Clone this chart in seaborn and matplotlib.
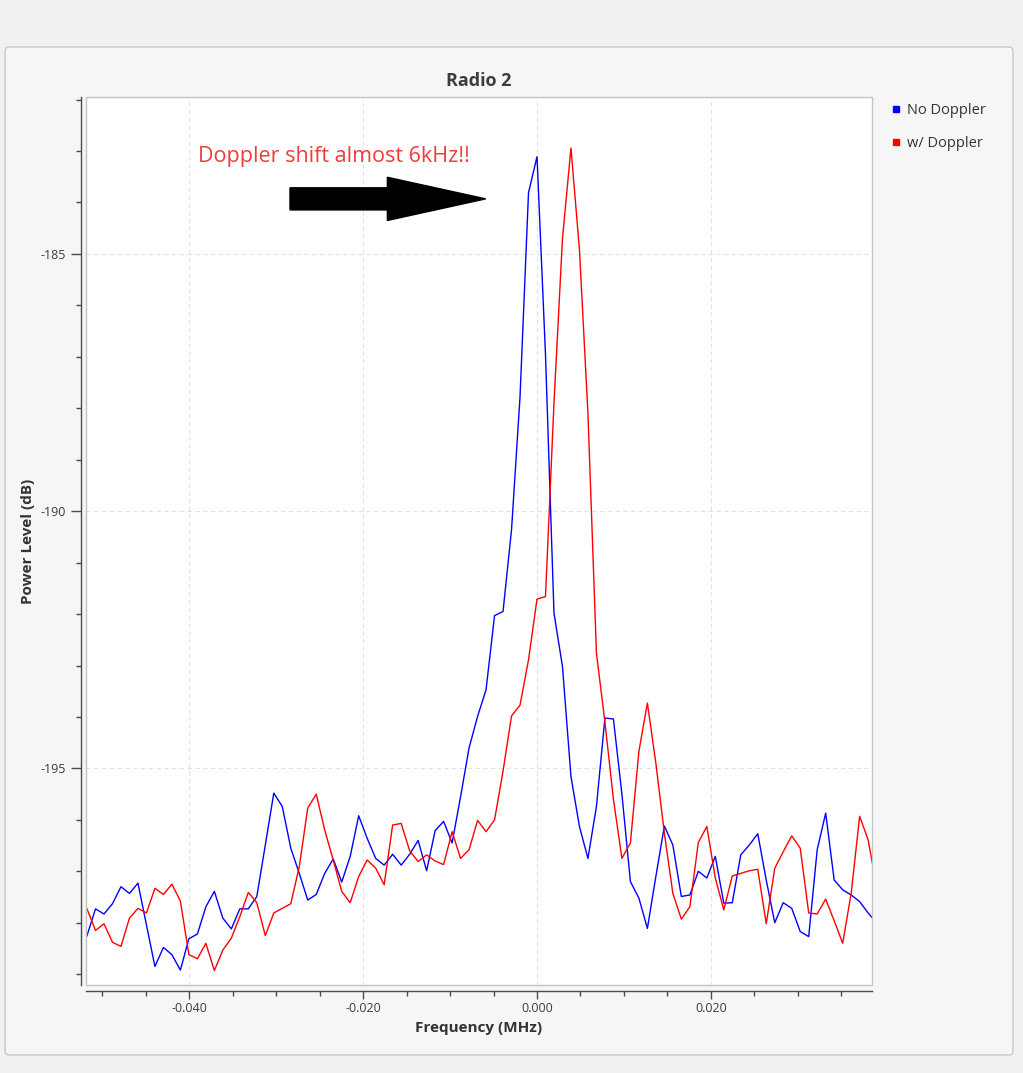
import numpy as np
import pandas as pd
import matplotlib
matplotlib.use("Agg")
import matplotlib.pyplot as plt
import seaborn as sns
from matplotlib.patches import FancyArrow, Rectangle, FancyBboxPatch
from matplotlib.lines import Line2D
from matplotlib.ticker import MultipleLocator, FormatStrFormatter

# fft bins (1 MHz / 1024 per bin), from -54 to +40
bins = np.arange(-54, 41)
freq_mhz = bins / 1024.0

no_doppler = [
    -198.60, -198.25, -197.73, -197.83, -197.63, -197.30, -197.43, -197.23, -198.04, -198.85,
    -198.48, -198.62, -198.92, -198.31, -198.22, -197.69, -197.39, -197.91, -198.12, -197.73,
    -197.73, -197.49, -196.49, -195.48, -195.74, -196.55, -197.04, -197.56, -197.45, -197.04,
    -196.76, -197.21, -196.71, -195.92, -196.36, -196.75, -196.88, -196.67, -196.88, -196.67,
    -196.40, -196.99, -196.21, -196.03, -196.45, -195.55, -194.60, -193.99, -193.47, -192.03,
    -191.95, -190.36, -187.78, -183.81, -183.11, -186.96, -191.98, -193.02, -195.16, -196.13,
    -196.75, -195.74, -194.02, -194.04, -195.50, -197.20, -197.52, -198.11, -197.10, -196.12,
    -196.49, -197.49, -197.46, -197.00, -197.13, -196.71, -197.62, -197.61, -196.68, -196.49,
    -196.27, -197.17, -198.00, -197.61, -197.72, -198.17, -198.27, -196.58, -195.87, -197.17,
    -197.36, -197.46, -197.59, -197.81, -198.00,
]
w_doppler = [
    -197.50, -197.73, -198.15, -198.02, -198.38, -198.46, -197.91, -197.72, -197.81, -197.33,
    -197.45, -197.25, -197.58, -198.62, -198.70, -198.40, -198.93, -198.53, -198.30, -197.88,
    -197.41, -197.61, -198.25, -197.81, -197.72, -197.63, -196.91, -195.77, -195.50, -196.20,
    -196.78, -197.39, -197.61, -197.10, -196.78, -196.94, -197.26, -196.10, -196.07, -196.60,
    -196.81, -196.68, -196.80, -196.87, -196.23, -196.75, -196.58, -196.01, -196.23, -196.00,
    -195.05, -193.98, -193.77, -192.89, -191.71, -191.66, -187.90, -184.70, -182.94, -184.92,
    -188.10, -192.76, -194.10, -195.60, -196.75, -196.45, -194.67, -193.73, -194.90, -196.26,
    -197.43, -197.93, -197.69, -196.44, -196.13, -197.13, -197.75, -197.09, -197.04, -196.99,
    -196.96, -198.02, -196.94, -196.62, -196.31, -196.55, -197.81, -197.83, -197.54, -197.96,
    -198.40, -197.43, -195.93, -196.39, -197.30,
]
series_names = ['No Doppler', 'w/ Doppler']
series_colors = {'No Doppler': '#0000ff', 'w/ Doppler': '#ff0000'}

df = pd.DataFrame({
    'freq': np.concatenate([freq_mhz, freq_mhz]),
    'power': no_doppler + w_doppler,
    'series': [series_names[0]] * len(bins) + [series_names[1]] * len(bins),
})

sns.set_theme(style='white')
plt.rcParams['font.family'] = ['Open Sans', 'DejaVu Sans']

W, H = 1023, 1073
fig = plt.figure(figsize=(W / 100, H / 100), dpi=100)
fig.patch.set_facecolor('#f2f1f0')
# widget panel behind the plot
panel = FancyBboxPatch((5 / W, 1 - 1055 / H), 1008 / W, 1008 / H,
                       boxstyle='round,pad=0,rounding_size=0.004',
                       transform=fig.transFigure, fc='#f6f6f6', ec='#c8c8c8', lw=1,
                       zorder=-10)
fig.patches.append(panel)

ax = fig.add_axes([85.5 / W, 1 - 985 / H, 786.5 / W, 888 / H])
ax.set_facecolor('white')

sns.lineplot(data=df, x='freq', y='power', hue='series', palette=series_colors,
             estimator=None, sort=False, lw=1.0, legend=False, ax=ax)

ax.set_xlim(-0.05193, 0.03853)
ax.set_ylim(-199.21, -181.95)

ax.xaxis.set_major_locator(MultipleLocator(0.02))
ax.xaxis.set_minor_locator(MultipleLocator(0.005))
ax.xaxis.set_major_formatter(FormatStrFormatter('%.3f'))
ax.yaxis.set_major_locator(MultipleLocator(5))
ax.yaxis.set_minor_locator(MultipleLocator(1))
ax.yaxis.set_major_formatter(FormatStrFormatter('%d'))

ax.grid(True, which='major', color='#e2e2e2', ls=(0, (4, 3)), lw=0.8)

for s in ['top', 'right']:
    ax.spines[s].set_visible(False)
ax.spines['left'].set_position(('outward', 3))
ax.spines['bottom'].set_position(('outward', 4))
for s in ['left', 'bottom']:
    ax.spines[s].set_color('#4a4a4a')
    ax.spines[s].set_linewidth(1)
ax.tick_params(which='major', direction='out', length=7, width=1, color='#4a4a4a',
               labelsize=9, labelcolor='#3c3c3c', pad=4, left=True)
ax.tick_params(axis='x', which='major', length=6, pad=2, bottom=True)
ax.tick_params(which='minor', direction='out', length=3.5, width=1, color='#4a4a4a',
               left=True, bottom=True)

# canvas frame
ax.add_patch(Rectangle((0, 0), 1, 1, transform=ax.transAxes, fill=False,
                       ec='#c4c4c4', lw=1, clip_on=False, zorder=5))

ax.set_title('Radio 2', fontsize=13, fontweight='bold', color='#3c3c3c', pad=8)
ax.set_xlabel('Frequency (MHz)', fontsize=11, fontweight='bold', color='#333333')
ax.set_ylabel('Power Level (dB)', fontsize=11, fontweight='bold', color='#333333')
ax.xaxis.set_label_coords(0.5, -0.0484)
ax.xaxis.label.set_va('center')
ax.yaxis.set_label_coords(-0.0731, 0.5)
ax.yaxis.label.set_va('center')

# annotation pasted on the plot
ax.add_patch(FancyArrow(-0.02841, -183.93, 0.02251, 0, width=0.43, head_width=0.84,
                        head_length=0.01131, length_includes_head=True,
                        color='black', zorder=1))
ax.text(-0.03899, -183.21, 'Doppler shift almost 6kHz!!', color='#f03c3c',
        fontsize=15.5, va='baseline', ha='left')

handles = [Line2D([], [], marker='s', ls='', color=series_colors[n], markersize=5)
           for n in series_names]
fig.legend(handles, series_names, loc='upper left', bbox_to_anchor=(878 / W, 1 - 90 / H),
           frameon=False, fontsize=10.5, labelspacing=1.25, handlelength=0.6,
           handletextpad=0.5, labelcolor='#333333')

fig.savefig('out.png', dpi=100, facecolor=fig.get_facecolor())
